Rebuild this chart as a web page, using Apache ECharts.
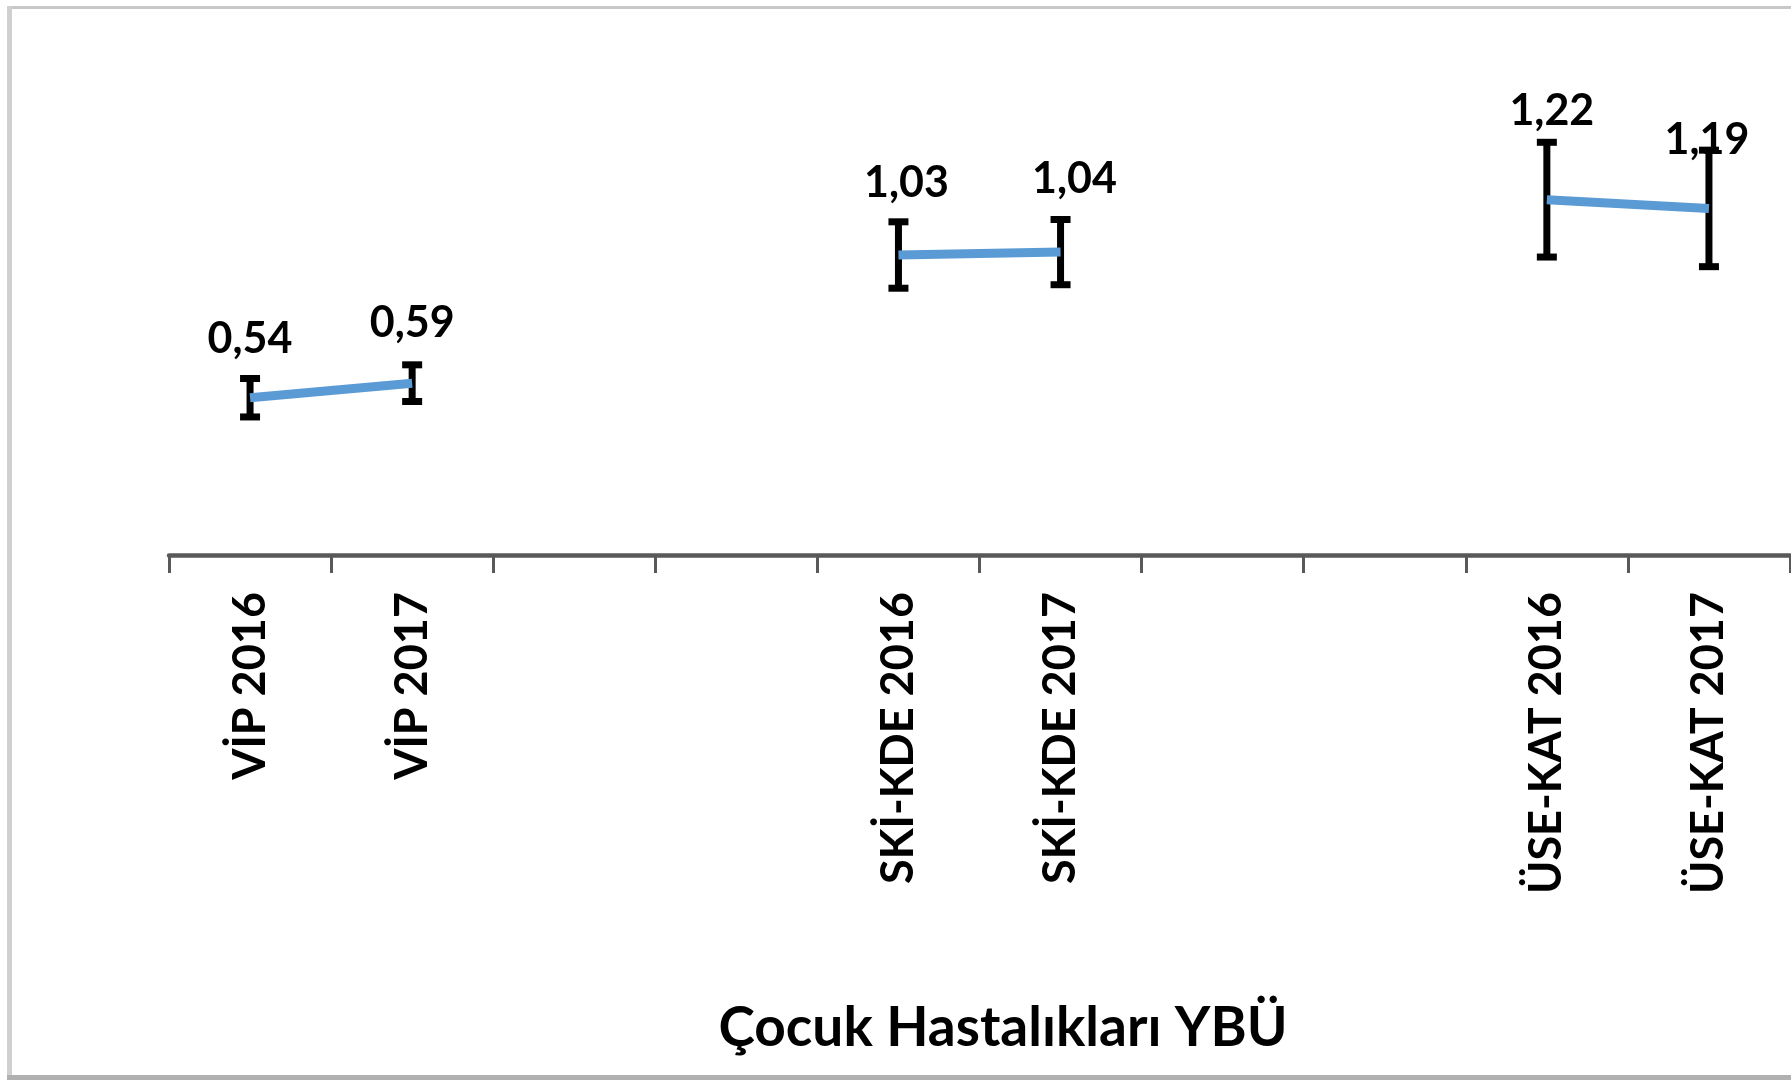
<!DOCTYPE html>
<html>
<head>
<meta charset="utf-8">
<script src="https://cdn.jsdelivr.net/npm/echarts@6/dist/echarts.min.js"></script>
<style>
html,body{margin:0;padding:0;background:#fff;}
#chart{width:1791px;height:1080px;}
</style>
</head>
<body>
<div id="chart"></div>
<script>
// ---- data ----
const categories = ['VİP 2016', 'VİP 2017', '', '', 'SKİ-KDE 2016', 'SKİ-KDE 2017', '', '', 'ÜSE-KAT 2016', 'ÜSE-KAT 2017'];
const means      = [0.54, 0.59, null, null, 1.03, 1.04, null, null, 1.22, 1.19];
const errors     = [0.066, 0.063, null, null, 0.114, 0.112, null, null, 0.197, 0.200];
const axisTitle  = 'Çocuk Hastalıkları YBÜ';
// label nudges (layout only)
const labelDx = [0, 0, 0, 0, 8, 14, 0, 0, 5, -2];
const labelDy = [-59, -60, 0, 0, -72, -73, 0, 0, -89, -68];

const FONT = 'Lato, "Open Sans", sans-serif';

const errData = [];
means.forEach((v, i) => {
  if (v !== null) errData.push([i, v - errors[i], v + errors[i], v]);
});

const chart = echarts.init(document.getElementById('chart'), null, {renderer: 'canvas'});
chart.setOption({
  animation: false,
  backgroundColor: '#ffffff',
  grid: {left: 169, right: 1, top: 89, bottom: 525, containLabel: false},
  xAxis: {
    type: 'category',
    data: categories,
    boundaryGap: true,
    axisLine: {lineStyle: {color: '#595959', width: 4.5}},
    axisTick: {show: true, length: 18, lineStyle: {color: '#595959', width: 3}},
    axisLabel: {
      rotate: 90, margin: 37, interval: 0,
      color: '#000', fontFamily: FONT, fontWeight: 'bold', fontSize: 45
    },
    splitLine: {show: false}
  },
  yAxis: {type: 'value', min: 0, max: 1.6, show: false},
  series: [
    {
      type: 'custom',
      z: 2,
      data: errData,
      renderItem: function (params, api) {
        const i = api.value(0);
        const top = api.coord([i, api.value(2)]);
        const bot = api.coord([i, api.value(1)]);
        const mid = api.coord([i, api.value(3)]);
        const cw = 10;
        const txt = api.value(3).toFixed(2).replace('.', ',');
        return {
          type: 'group',
          children: [
            {type: 'line', shape: {x1: top[0], y1: top[1], x2: bot[0], y2: bot[1]}, style: {stroke: '#000', lineWidth: 7}},
            {type: 'line', shape: {x1: top[0] - cw, y1: top[1], x2: top[0] + cw, y2: top[1]}, style: {stroke: '#000', lineWidth: 7}},
            {type: 'line', shape: {x1: bot[0] - cw, y1: bot[1], x2: bot[0] + cw, y2: bot[1]}, style: {stroke: '#000', lineWidth: 7}},
            {type: 'text', z2: 10, style: {
              text: txt, x: mid[0] + labelDx[i], y: mid[1] + labelDy[i],
              align: 'center', verticalAlign: 'middle',
              fill: '#000', font: 'bold 43px ' + FONT
            }}
          ]
        };
      }
    },
    {
      type: 'line',
      z: 3,
      data: means,
      connectNulls: false,
      showSymbol: false,
      symbol: 'none',
      lineStyle: {color: '#5B9BD5', width: 9},
      silent: true
    }
  ],
  graphic: [
    {type: 'line', shape: {x1: 7, y1: 7.5, x2: 1791, y2: 7.5}, style: {stroke: '#c8c8c8', lineWidth: 3}},
    {type: 'line', shape: {x1: 9.5, y1: 6, x2: 9.5, y2: 1076}, style: {stroke: '#d0d0d0', lineWidth: 5}},
    {type: 'line', shape: {x1: 7, y1: 1077.5, x2: 1791, y2: 1077.5}, style: {stroke: '#b0b0b0', lineWidth: 5}},
    {type: 'text', x: 1003, y: 1028, style: {
      text: axisTitle, align: 'center', verticalAlign: 'middle',
      fill: '#000', font: 'bold 55px ' + FONT
    }}
  ]
});
</script>
</body>
</html>
